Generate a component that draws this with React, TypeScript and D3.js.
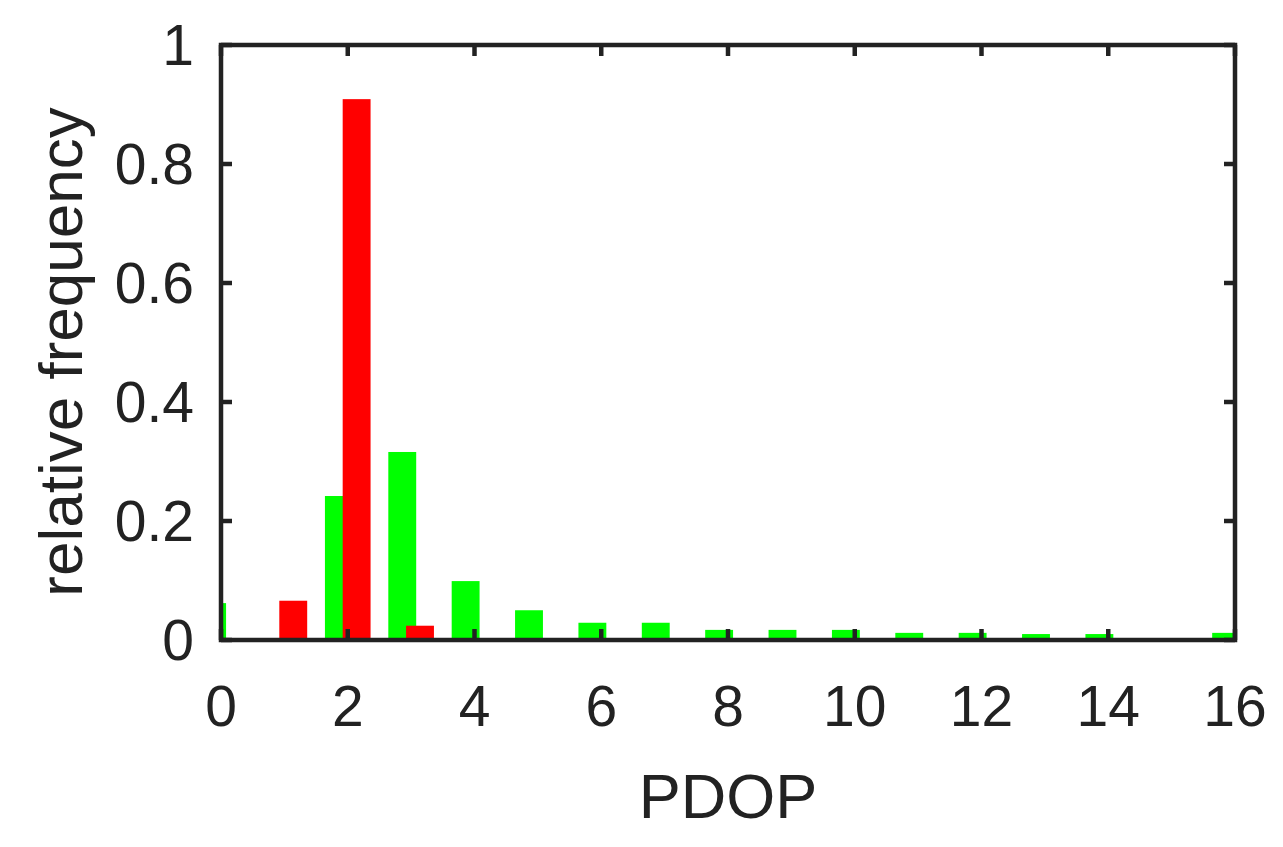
import React from "react";
import * as d3 from "d3";

const pdopBins = [0, 1, 2, 3, 4, 5, 6, 7, 8, 9, 10, 11, 12, 13, 14, 15, 16];
const greenValues = [0.062, 0, 0.242, 0.316, 0.099, 0.05, 0.029, 0.029, 0.017, 0.017, 0.017, 0.012, 0.012, 0.01, 0.01, 0, 0.012];
const redBins = [1, 2, 3];
const redValues = [0.066, 0.909, 0.024];
const xTicks = [0, 2, 4, 6, 8, 10, 12, 14, 16];
const yTicks = [0, 0.2, 0.4, 0.6, 0.8, 1];
const yTickLabels = ["0", "0.2", "0.4", "0.6", "0.8", "1"];

const W = 1283;
const H = 847;
const left = 221;
const right = 1235;
const top = 45;
const bottom = 640;
const AX = "#222222";
const FONT = "'Liberation Sans', Arial, sans-serif";

export default function App() {
  const x = d3.scaleLinear().domain([0, 16]).range([left, right]);
  const y = d3.scaleLinear().domain([0, 1]).range([bottom, top]);
  const bw = x(0.44) - x(0);
  const off = x(0.14) - x(0);
  const tickLen = 11;

  return (
    <svg width={W} height={H} style={{ position: "absolute", left: 0, top: 0, background: "#fff" }}>
      <defs>
        <clipPath id="plot">
          <rect x={left} y={top} width={right - left} height={bottom - top} />
        </clipPath>
      </defs>
      <g clipPath="url(#plot)">
        {pdopBins.map((b, i) =>
          greenValues[i] > 0 ? (
            <rect key={"g" + b} x={x(b) - off - bw / 2} y={y(greenValues[i])} width={bw} height={y(0) - y(greenValues[i])} fill="#00ff00" />
          ) : null
        )}
        {redBins.map((b, i) => (
          <rect key={"r" + b} x={x(b) + off - bw / 2} y={y(redValues[i])} width={bw} height={y(0) - y(redValues[i])} fill="#ff0000" />
        ))}
      </g>
      {xTicks.map((t) => (
        <g key={"xt" + t}>
          <line x1={x(t)} x2={x(t)} y1={bottom} y2={bottom - tickLen} stroke={AX} strokeWidth={4.5} />
          <line x1={x(t)} x2={x(t)} y1={top} y2={top + tickLen} stroke={AX} strokeWidth={4.5} />
          <text x={x(t)} y={726} textAnchor="middle" fontFamily={FONT} fontSize={57} fill={AX}>
            {t}
          </text>
        </g>
      ))}
      {yTicks.map((t, i) => (
        <g key={"yt" + t}>
          <line x1={left} x2={left + tickLen} y1={y(t)} y2={y(t)} stroke={AX} strokeWidth={4.5} />
          <line x1={right} x2={right - tickLen} y1={y(t)} y2={y(t)} stroke={AX} strokeWidth={4.5} />
          <text x={194} y={y(t) + 20} textAnchor="end" fontFamily={FONT} fontSize={57} fill={AX}>
            {yTickLabels[i]}
          </text>
        </g>
      ))}
      <rect x={left} y={top} width={right - left} height={bottom - top} fill="none" stroke={AX} strokeWidth={4.5} />
      <text x={(left + right) / 2} y={818} textAnchor="middle" fontFamily={FONT} fontSize={63} fill={AX}>
        PDOP
      </text>
      <text transform={`translate(82,352) rotate(-90)`} textAnchor="middle" fontFamily={FONT} fontSize={62} fill={AX}>
        relative frequency
      </text>
    </svg>
  );
}
